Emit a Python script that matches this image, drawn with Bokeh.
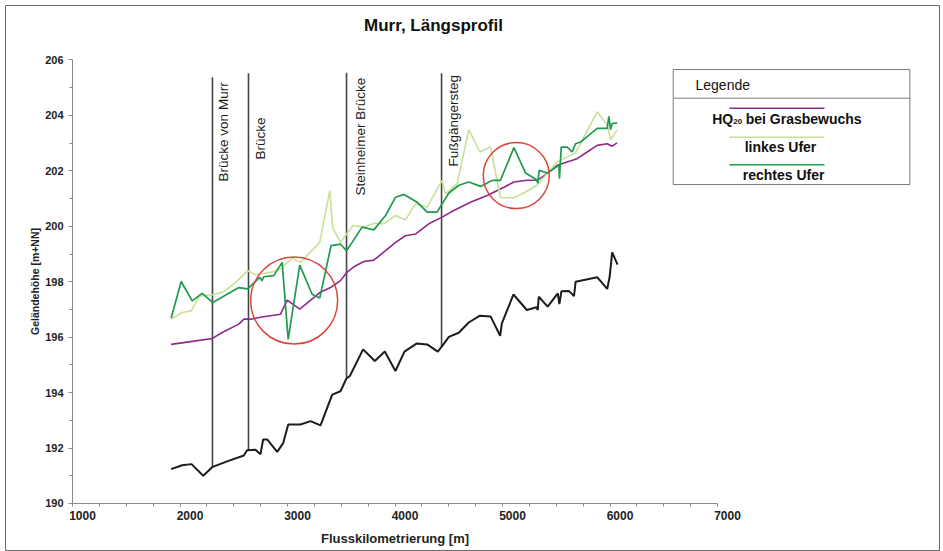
from bokeh.plotting import figure
from bokeh.models import Range1d, FixedTicker, Label, LinearAxis
from bokeh.core.properties import value
from bokeh.embed import file_html
from bokeh.resources import INLINE

FONT = "Liberation Sans"

# ---------------- texts ----------------
title_text = "Murr, Längsprofil"
x_title = "Flusskilometrierung [m]"
y_title = "Geländehöhe [m+NN]"

# ---------------- ticks ----------------
x_ticks = [1000, 2000, 3000, 4000, 5000, 6000, 7000]
x_minor = list(range(1000, 7001, 250))
y_ticks = [190, 192, 194, 196, 198, 200, 202, 204, 206]
y_minor = [191, 193, 195, 197, 199, 201, 203, 205]

# ---------------- data ----------------
# Gewässersohle (schwarz)
sohle_km = [1918, 2020, 2107, 2216, 2299, 2438, 2594, 2624, 2702, 2749, 2773, 2811, 2904, 2960,
            3007, 3121, 3214, 3307, 3369, 3416, 3493, 3548, 3580, 3703, 3812, 3905, 4004, 4088,
            4200, 4299, 4398, 4438, 4501, 4593, 4686, 4786, 4889, 4978, 4994, 5102, 5226, 5317,
            5328, 5337, 5420, 5514, 5529, 5548, 5617, 5665, 5680, 5882, 5974, 5996, 6020, 6070]
sohle_h = [191.24, 191.38, 191.42, 191.00, 191.31, 191.52, 191.73, 191.92, 191.94, 191.78, 192.31,
           192.31, 191.86, 192.18, 192.85, 192.85, 192.97, 192.82, 193.45, 193.93, 194.05, 194.51,
           194.60, 195.56, 195.14, 195.48, 194.78, 195.48, 195.77, 195.74, 195.48, 195.68, 196.01,
           196.16, 196.53, 196.77, 196.75, 196.05, 196.50, 197.54, 196.98, 197.08, 196.98, 197.46,
           197.10, 197.58, 197.19, 197.66, 197.67, 197.48, 198.00, 198.16, 197.74, 198.16, 199.06,
           198.62]

# HQ 20 bei Grasbewuchs (violett)
hq_km = [1918, 2100, 2298, 2392, 2547, 2594, 2656, 2764, 2935, 2997, 3114, 3300, 3400, 3493, 3555,
         3617, 3710, 3803, 3912, 4005, 4097, 4190, 4314, 4438, 4547, 4702, 4857, 5013, 5106, 5230,
         5322, 5415, 5508, 5601, 5694, 5787, 5881, 5974, 6020, 6066]
hq_h = [195.74, 195.84, 195.95, 196.17, 196.47, 196.65, 196.65, 196.73, 196.83, 197.34, 197.01,
        197.61, 197.79, 198.04, 198.35, 198.54, 198.73, 198.78, 199.12, 199.42, 199.66, 199.72,
        200.09, 200.33, 200.57, 200.87, 201.11, 201.41, 201.60, 201.66, 201.66, 201.90, 202.20,
        202.32, 202.44, 202.68, 202.92, 202.98, 202.89, 203.01]

# linkes Ufer (hellgrün)
links_km = [1918, 2020, 2103, 2184, 2298, 2392, 2516, 2630, 2702, 2842, 2935, 3044, 3121, 3300,
            3393, 3421, 3493, 3555, 3610, 3710, 3803, 3896, 4005, 4097, 4190, 4299, 4438, 4469,
            4578, 4687, 4789, 4889, 4981, 5106, 5215, 5322, 5508, 5632, 5679, 5881, 5974, 6005, 6066]
links_h = [196.65, 196.89, 196.95, 197.49, 197.53, 197.61, 197.97, 198.40, 198.25, 198.34, 198.46,
           198.86, 198.70, 199.42, 201.29, 199.94, 199.42, 199.75, 200.03, 199.97, 200.11, 200.09,
           200.39, 200.23, 200.81, 200.69, 201.66, 201.17, 201.54, 203.49, 202.68, 202.86, 201.03,
           201.03, 201.24, 201.48, 202.32, 202.56, 202.65, 204.13, 203.65, 203.13, 203.47]

# rechtes Ufer (dunkelgrün)
rechts_km = [1918, 2011, 2113, 2206, 2305, 2547, 2630, 2742, 2764, 2779, 2872, 2950, 3006, 3114,
             3229, 3300, 3405, 3493, 3548, 3601, 3694, 3803, 3912, 4005, 4083, 4206, 4299, 4392,
             4438, 4501, 4594, 4687, 4796, 4905, 4981, 5106, 5215, 5317, 5328, 5341, 5416, 5524,
             5530, 5546, 5602, 5648, 5679, 5725, 5881, 5974, 5989, 6005, 6020, 6066]
rechts_h = [196.69, 198.01, 197.31, 197.58, 197.25, 197.79, 197.74, 198.16, 198.04, 198.18, 198.22,
            198.70, 195.92, 198.60, 197.55, 197.41, 199.30, 199.36, 199.12, 199.42, 199.97, 199.87,
            200.39, 201.05, 201.15, 200.87, 200.51, 200.51, 200.81, 201.20, 201.48, 201.60, 201.44,
            201.66, 201.66, 202.84, 201.92, 201.68, 201.55, 202.02, 201.92, 202.20, 201.72, 202.86,
            202.86, 202.68, 202.98, 203.04, 203.53, 203.53, 203.97, 203.49, 203.71, 203.73]

# Brücken / Stege
bridge_names = ["Brücke von Murr", "Brücke", "Steinheimer Brücke", "Fußgängersteg"]
bridge_km = [2302, 2637, 3549, 4433]
bridge_top = [205.38, 205.52, 205.54, 205.52]
bridge_bottom = [191.31, 191.92, 194.55, 195.66]

# markierte Bereiche (rote Kreise)
highlight_km = [3062, 5128]
highlight_h = [197.32, 201.83]

# ---------------- layout (positions, sizes) ----------------
bridge_label_x = [2405, 2749, 3679, 4544]
bridge_label_y = [201.62, 202.41, 201.11, 202.16]
highlight_size_px = [87, 66]

C_HQ = "#8e2a8e"
C_LINKS = "#c6e196"
C_RECHTS = "#1f9a4e"
C_SOHLE = "#1c1c1c"
C_RED = "#d9473b"
C_BRIDGE = "#454545"

p = figure(width=940, height=551,
           x_range=Range1d(376.8, 9064.8), y_range=Range1d(188.268, 207.966),
           x_axis_type=None, y_axis_type=None,
           output_backend="svg", toolbar_location=None,
           min_border=0, min_border_left=5, min_border_right=1,
           min_border_top=5, min_border_bottom=0)
p.outline_line_color = "#6a6a6a"
p.outline_line_width = 1
p.background_fill_color = "white"
p.border_fill_color = "white"
p.extra_x_ranges = {"xlab": Range1d(376.8 - 93, 9064.8 - 93)}

# y axis
yaxis = LinearAxis(fixed_location=1000, bounds=(190, 206),
                   ticker=FixedTicker(ticks=y_ticks, minor_ticks=y_minor),
                   axis_label=y_title)
# x axis (line + ticks + title)
xaxis = LinearAxis(fixed_location=190, bounds=(1000, 7000),
                   ticker=FixedTicker(ticks=[], minor_ticks=x_minor),
                   axis_label=x_title)
# x tick labels
xlab = LinearAxis(x_range_name="xlab", fixed_location=190, bounds=(1000, 7000),
                  ticker=FixedTicker(ticks=x_ticks, minor_ticks=[]))
for ax in (yaxis, xaxis, xlab):
    ax.axis_line_color = "#8a8a8a"
    ax.axis_line_width = 1
    ax.major_tick_line_color = "#8a8a8a"
    ax.minor_tick_line_color = "#8a8a8a"
    ax.major_tick_in = 0
    ax.minor_tick_in = 0
    ax.major_label_text_font = FONT
    ax.major_label_text_font_style = "bold"
    ax.major_label_text_font_size = "11px"
    ax.major_label_text_color = "#222222"
    ax.axis_label_text_font = FONT
    ax.axis_label_text_font_style = "bold"
    ax.axis_label_text_color = "#222222"
yaxis.major_tick_out = 4
yaxis.minor_tick_out = 3
yaxis.major_label_standoff = 5
yaxis.axis_label_text_font_size = "10.5px"
yaxis.axis_label_standoff = 1
xaxis.minor_tick_out = 3
xaxis.axis_label_text_font_size = "13px"
xaxis.axis_label_standoff = 24
xlab.axis_line_color = None
xlab.major_tick_line_color = None
xlab.minor_tick_line_color = None
xlab.major_tick_out = 0
xlab.major_label_standoff = 8
xlab.major_label_text_font_size = "12px"
p.add_layout(yaxis, "left")
p.add_layout(xaxis, "below")
p.add_layout(xlab, "below")

# title
p.add_layout(Label(x=4358, y=207.245, text=title_text, text_align="center", text_baseline="middle",
                   text_font=FONT, text_font_style="bold", text_font_size="17px", text_color="#111111"))

# bridges
p.segment(x0=bridge_km, y0=bridge_bottom, x1=bridge_km, y1=bridge_top,
          line_color=C_BRIDGE, line_width=1.6)
p.text(x=bridge_label_x, y=bridge_label_y, text=bridge_names, angle=1.5708,
       text_align="left", text_baseline="middle", text_font=value(FONT),
       text_font_size="13.5px", text_color="#1a1a1a")

# data lines
p.line(sohle_km, sohle_h, line_color=C_SOHLE, line_width=2)
p.line(hq_km, hq_h, line_color=C_HQ, line_width=1.6)
p.line(links_km, links_h, line_color=C_LINKS, line_width=1.6)
p.line(rechts_km, rechts_h, line_color=C_RECHTS, line_width=1.7)

# highlight circles
p.scatter(x=highlight_km, y=highlight_h, size=highlight_size_px, marker="circle",
          fill_color=None, line_color=C_RED, line_width=1.5)

# legend (drawn box)
leg_left, leg_right, leg_top, leg_bottom, leg_div = 6588, 8789, 205.657, 201.509, 204.622
p.quad(left=[leg_left], right=[leg_right], top=[leg_top], bottom=[leg_bottom],
       fill_color="white", line_color="#7a7a7a", line_width=1)
p.segment(x0=[leg_left], y0=[leg_div], x1=[leg_right], y1=[leg_div], line_color="#7a7a7a", line_width=1)
p.segment(x0=[7111, 7111, 7111], y0=[204.261, 203.215, 202.219],
          x1=[7995, 7995, 7995], y1=[204.261, 203.215, 202.219],
          line_color=[C_HQ, C_LINKS, C_RECHTS], line_width=1.6)
p.text(x=[6795], y=[205.105], text=["Legende"], text_align="left", text_baseline="middle",
       text_font=value(FONT), text_font_size="14px", text_color="#111111")
p.text(x=[6951], y=[203.879], text=["HQ"], text_align="left", text_baseline="middle",
       text_font=value(FONT), text_font_style="bold", text_font_size="14px", text_color="#111111")
p.text(x=[7146], y=[203.77], text=["20"], text_align="left", text_baseline="middle",
       text_font=value(FONT), text_font_style="bold", text_font_size="8px", text_color="#111111")
p.text(x=[7262], y=[203.879], text=["bei Grasbewuchs"], text_align="left", text_baseline="middle",
       text_font=value(FONT), text_font_style="bold", text_font_size="14px", text_color="#111111")
p.text(x=[7586, 7614], y=[202.855, 201.859], text=["linkes Ufer", "rechtes Ufer"],
       text_align="center", text_baseline="middle",
       text_font=value(FONT), text_font_style="bold", text_font_size="14px", text_color="#111111")

open("out.html", "w").write(file_html(p, INLINE))
